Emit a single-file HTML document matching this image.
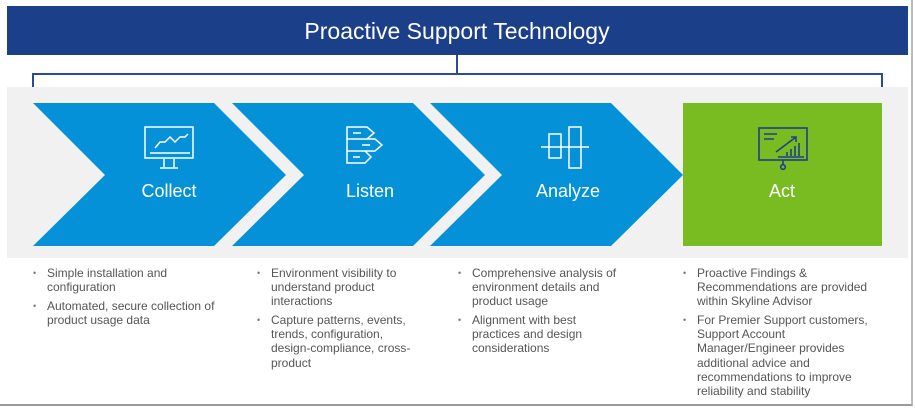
<!DOCTYPE html>
<html><head><meta charset="utf-8"><style>
body{margin:0;width:915px;height:408px;background:#fff;position:relative;overflow:hidden;font-family:"Liberation Sans",sans-serif}
.frame{position:absolute;left:0;top:0;width:911px;height:404px;border-right:2px solid #bbb;border-bottom:2px solid #999;box-sizing:content-box}
.col{position:absolute;top:266px;font-size:12px;line-height:14.1px;color:#555;white-space:nowrap}
.col div{position:relative;padding-left:14px;margin-bottom:5px}
.col div:before{content:"•";position:absolute;left:0;font-size:9px;color:#777}
.lbl{position:absolute;color:#fff;font-size:18px;text-align:center;width:200px;top:181px}
</style></head><body>
<div class="frame"></div>
<svg width="915" height="408" style="position:absolute;left:0;top:0">
<rect x="7" y="6" width="901" height="49" fill="#1c3f8a"/>
<text x="457" y="39" text-anchor="middle" fill="#fff" font-family="Liberation Sans" font-size="23">Proactive Support Technology</text>
<path d="M457 55V74M33 87V74H882V87" fill="none" stroke="#2a4a9a" stroke-width="2"/>
<rect x="7" y="87" width="901" height="171" fill="#f1f1f1"/>
<polygon points="33,103 214,103 286,175 214,246 33,246 105,175" fill="#0591d8"/>
<polygon points="232,103 413,103 485,175 413,246 232,246 304,175" fill="#0591d8"/>
<polygon points="430,103 611,103 683,175 611,246 430,246 502,175" fill="#0591d8"/>
<rect x="683" y="103" width="199" height="143" fill="#78bc22"/>
<g fill="none" stroke="#fff" stroke-width="1.5">
<rect x="145" y="127" width="48" height="31"/>
<path d="M155 148l5-6h5l5-5 5 5 5-5h5l3-3M150 153h40M164 159v8M174 159v8M160 168h18"/>
</g>
<g fill="none" stroke="#fff" stroke-width="1.5">
<path d="M347 127h20l7 6-7 6h-20z M347 139h28l7 6-7 6h-28z M347 151h18l6 6-6 6h-18z"/>
<path d="M353 133h8M362 145h8M353 157h7"/>
</g>
<g fill="none" stroke="#fff" stroke-width="1.5">
<rect x="549" y="134" width="12" height="24"/><rect x="569" y="127" width="12" height="41"/>
<path d="M541 147h48"/>
</g>
<g fill="none" stroke="#1e3f8c" stroke-width="1.6">
<rect x="759" y="128" width="48" height="32"/>
<path d="M764 134h13M764 139h10M776 152l20-15M791 137h5v5M778 157h26M787 156v-4M791 156v-7M795 156v-10M799 156v-13M783 160v5"/>
<circle cx="783" cy="167" r="2.3"/>
</g>
</svg>
<div class="lbl" style="left:69px">Collect</div>
<div class="lbl" style="left:270px">Listen</div>
<div class="lbl" style="left:468px">Analyze</div>
<div class="lbl" style="left:682px">Act</div>
<div class="col" style="left:33px"><div>Simple installation and<br>configuration</div><div>Automated, secure collection of<br>product usage data</div></div>
<div class="col" style="left:257px"><div>Environment visibility to<br>understand product<br>interactions</div><div>Capture patterns, events,<br>trends, configuration,<br>design-compliance, cross-<br>product</div></div>
<div class="col" style="left:458px"><div>Comprehensive analysis of<br>environment details and<br>product usage</div><div>Alignment with best<br>practices and design<br>considerations</div></div>
<div class="col" style="left:683px"><div>Proactive Findings &amp;<br>Recommendations are provided<br>within Skyline Advisor</div><div>For Premier Support customers,<br>Support Account<br>Manager/Engineer provides<br>additional advice and<br>recommendations to improve<br>reliability and stability</div></div>
</body></html>
